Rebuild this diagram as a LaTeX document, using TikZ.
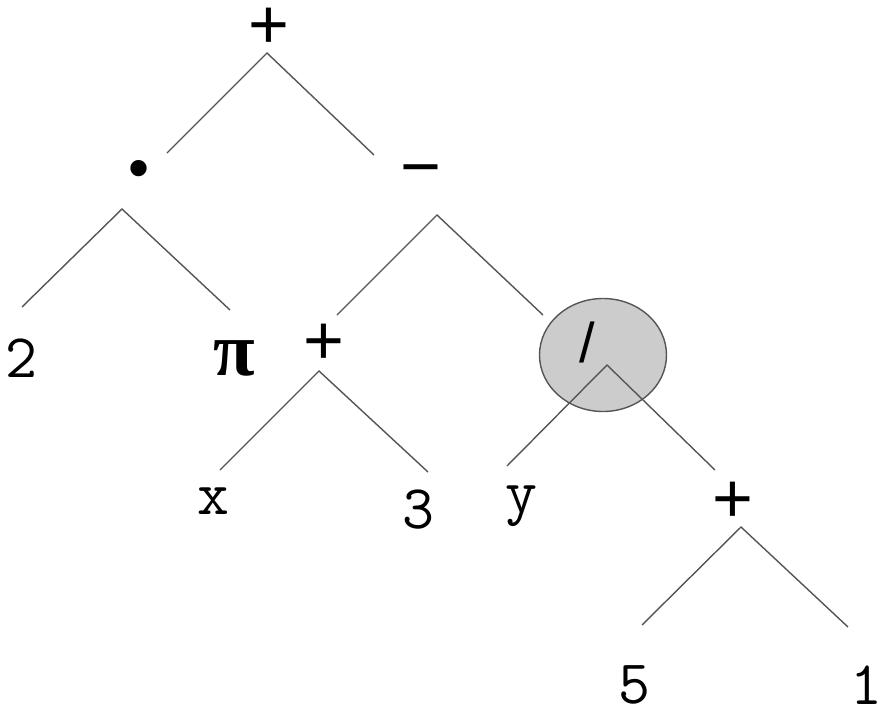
\documentclass[tikz,border=0pt]{standalone}
\usepackage{fontspec}
\usepackage{tikz}
\usetikzlibrary{shapes.geometric}
\newfontfamily\opsignfont{Liberation Sans}
\newfontfamily\greekfont{Liberation Serif}
\definecolor{treeline}{HTML}{555555}
\definecolor{treefill}{HTML}{CCCCCC}
\tikzset{
  leaf/.style={
    inner sep=0pt,
    font=\ttfamily\fontsize{31}{31}\selectfont
  },
  opsign/.style={
    inner sep=0pt,
    font=\opsignfont\fontsize{35}{35}\selectfont
  },
  branch/.style={
    draw=treeline,
    line width=0.7pt
  },
  marked/.style={
    ellipse,
    draw=treeline,
    fill=treefill,
    line width=0.7pt,
    minimum width=63.5pt,
    minimum height=56.5pt
  }
}

\begin{document}
\begin{tikzpicture}[x=0.5pt,y=-0.5pt]
  \useasboundingbox (0,0) rectangle (880,707);
  % operators
  \node[opsign] (root) at (269,28) {+};
  \node[opsign, font=\opsignfont\fontsize{30}{30}\selectfont] (times) at (139,174) {•};
  \node[opsign] (minus) at (421,178) {−};
  \node[opsign] (sum) at (324,344) {+};
  \node[marked] (div) at (603,355) {};
  \node[opsign, font=\opsignfont\fontsize{28}{28}\selectfont] (divsign) at (587,342) {/};
  \node[opsign] (sumb) at (733,502) {+};
  % leaves
  \node[leaf] (two) at (21,358) {2};
  \node[inner sep=0pt, font=\greekfont\bfseries\fontsize{38}{38}\selectfont] (pi) at (234,358) {π};
  \node[leaf] (x) at (213,501) {x};
  \node[leaf] (three) at (418,510) {3};
  \node[leaf] (y) at (521,506) {y};
  \node[leaf] (five) at (634,685) {5};
  \node[leaf] (one) at (866,685) {1};
  % branch points
  \coordinate (rootA) at (267,53);  \coordinate (rootL) at (167,153);  \coordinate (rootR) at (374,155);
  \coordinate (timesA) at (122,209); \coordinate (timesL) at (22,307);  \coordinate (timesR) at (230,310);
  \coordinate (minusA) at (437,215); \coordinate (minusL) at (337,315); \coordinate (minusR) at (543,315);
  \coordinate (sumA) at (319,371);   \coordinate (sumL) at (220,470);   \coordinate (sumR) at (428,472);
  \coordinate (divA) at (607,365);   \coordinate (divL) at (507,466);   \coordinate (divR) at (715,470);
  \coordinate (sumbA) at (741,527);  \coordinate (sumbL) at (642,625);  \coordinate (sumbR) at (848,627);
  \foreach \n in {root,times,minus,sum,div,sumb} {
    \draw[branch] (\n L) -- (\n A) -- (\n R);
  }
\end{tikzpicture}
\end{document}
